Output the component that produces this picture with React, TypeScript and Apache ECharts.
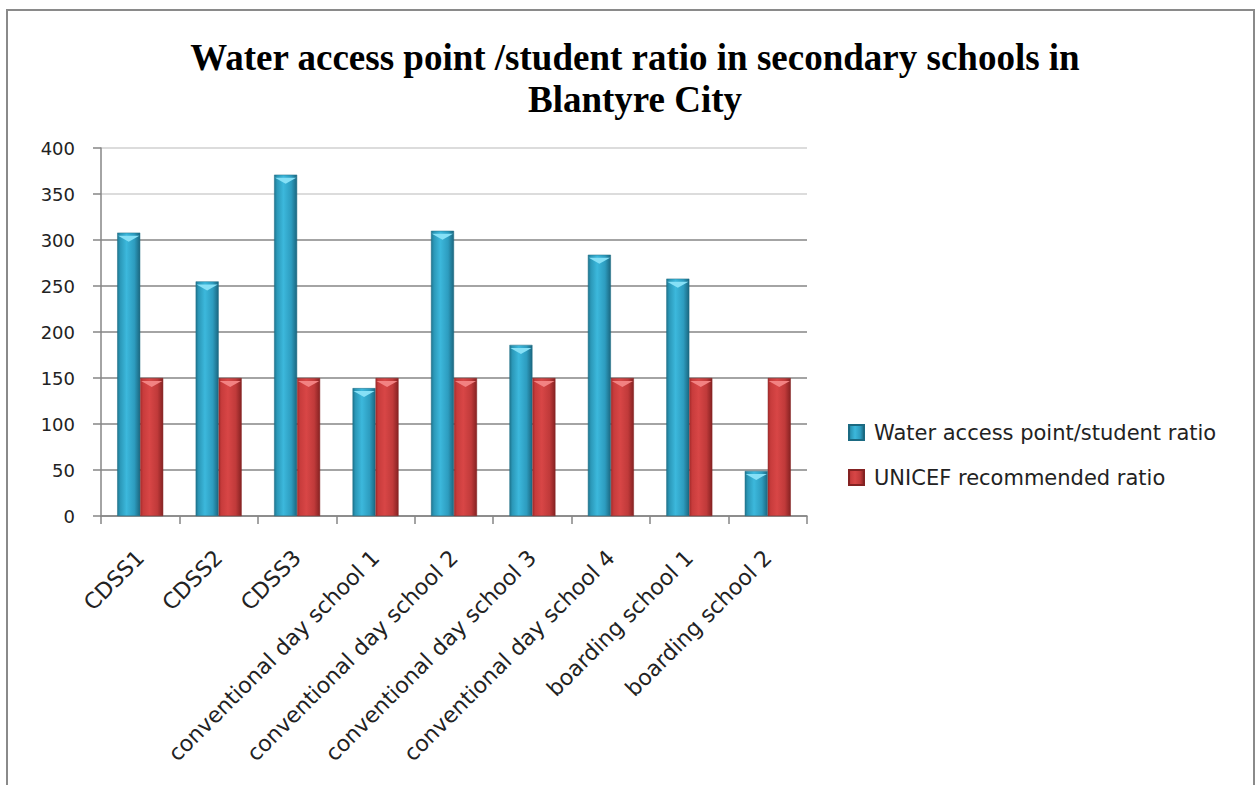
import React, { useEffect, useRef } from "react";
import * as echarts from "echarts";

const titleText = "Water access point /student ratio in secondary schools in\nBlantyre City";
const categories = [
  "CDSS1",
  "CDSS2",
  "CDSS3",
  "conventional day school 1",
  "conventional day school 2",
  "conventional day school 3",
  "conventional day school 4",
  "boarding school 1",
  "boarding school 2",
];
const waterRatio = [308, 255, 371, 139, 310, 186, 284, 258, 49];
const unicefRatio = [150, 150, 150, 150, 150, 150, 150, 150, 150];
const seriesNames = ["Water access point/student ratio", "UNICEF recommended ratio"];
const yMin = 0;
const yMax = 400;
const yInterval = 50;

const blueFill = new echarts.graphic.LinearGradient(0, 0, 1, 0, [
  { offset: 0, color: "#1f7690" },
  { offset: 0.12, color: "#2b98b8" },
  { offset: 0.4, color: "#3cb8dc" },
  { offset: 0.75, color: "#2d9cbf" },
  { offset: 1, color: "#1b6780" },
]);
const redFill = new echarts.graphic.LinearGradient(0, 0, 1, 0, [
  { offset: 0, color: "#a82c2c" },
  { offset: 0.12, color: "#c83c3c" },
  { offset: 0.4, color: "#d84646" },
  { offset: 0.75, color: "#c03a3a" },
  { offset: 1, color: "#862222" },
]);

export default function App() {
  const ref = useRef<HTMLDivElement>(null);
  useEffect(() => {
    if (!ref.current) return;
    const chart = echarts.init(ref.current, null, { renderer: "svg" });
    const sansFont = "DejaVu Sans";
    chart.setOption({
      animation: false,
      backgroundColor: "#ffffff",
      graphic: [
        {
          type: "rect",
          shape: { x: 7, y: 10, width: 1247, height: 820 },
          style: { fill: "none", stroke: "#8a8a8a", lineWidth: 2 },
          silent: true,
        },
      ],
      title: {
        text: titleText,
        left: 630,
        textAlign: "center",
        top: 31,
        textStyle: {
          fontFamily: "Liberation Serif",
          fontWeight: "bold",
          fontSize: 37,
          lineHeight: 42,
          color: "#000000",
        },
      },
      legend: {
        orient: "vertical",
        left: 848,
        top: 422,
        padding: 0,
        itemWidth: 15,
        itemHeight: 15,
        itemGap: 24,
        icon: "rect",
        data: seriesNames,
        textStyle: {
          fontFamily: sansFont,
          fontSize: 21,
          color: "#222222",
          padding: [0, 0, 0, 5],
        },
      },
      grid: {
        left: 101,
        right: 448,
        top: 148,
        bottom: 269,
        containLabel: false,
      },
      xAxis: {
        type: "category",
        data: categories,
        axisLine: { show: true, lineStyle: { color: "#868686", width: 1.5 } },
        axisTick: { show: true, length: 8, lineStyle: { color: "#868686", width: 1.5 } },
        axisLabel: {
          rotate: 45,
          interval: 0,
          margin: 38,
          fontFamily: sansFont,
          fontSize: 22,
          color: "#222222",
        },
      },
      yAxis: {
        type: "value",
        min: yMin,
        max: yMax,
        interval: yInterval,
        axisLine: { show: true, lineStyle: { color: "#868686", width: 1.5 } },
        axisTick: { show: true, length: 8, lineStyle: { color: "#868686", width: 1.5 } },
        axisLabel: {
          margin: 26,
          fontFamily: sansFont,
          fontSize: 18,
          color: "#222222",
        },
        splitLine: {
          show: true,
          lineStyle: {
            color: ["#868686", "#868686", "#868686", "#868686", "#868686", "#868686", "#868686", "#d0d0d0", "#d0d0d0"],
            width: 1.5,
          },
        },
      },
      series: [
        {
          name: seriesNames[0],
          type: "bar",
          data: waterRatio,
          barWidth: 23,
          barGap: "0%",
          itemStyle: { color: blueFill, borderColor: "#1b6a82", borderWidth: 0.5 },
        },
        {
          name: seriesNames[1],
          type: "bar",
          data: unicefRatio,
          barWidth: 23,
          barGap: "0%",
          itemStyle: { color: redFill, borderColor: "#842222", borderWidth: 0.5 },
        },
        {
          name: "capWater",
          type: "pictorialBar",
          data: waterRatio,
          barWidth: 23,
          barGap: "0%",
          symbol: "path://M0,0 L10,0 L5,3 Z",
          symbolSize: [21, 6],
          symbolPosition: "end",
          symbolOffset: [0, 3],
          itemStyle: { color: "#86e0f6" },
          silent: true,
          z: 3,
        },
        {
          name: "capUnicef",
          type: "pictorialBar",
          data: unicefRatio,
          barWidth: 23,
          barGap: "0%",
          symbol: "path://M0,0 L10,0 L5,3 Z",
          symbolSize: [21, 6],
          symbolPosition: "end",
          symbolOffset: [0, 3],
          itemStyle: { color: "#f28282" },
          silent: true,
          z: 3,
        },
      ],
    });
    return () => chart.dispose();
  }, []);
  return (
    <div
      ref={ref}
      style={{ position: "fixed", left: 0, top: 0, width: 1255, height: 785 }}
    />
  );
}
